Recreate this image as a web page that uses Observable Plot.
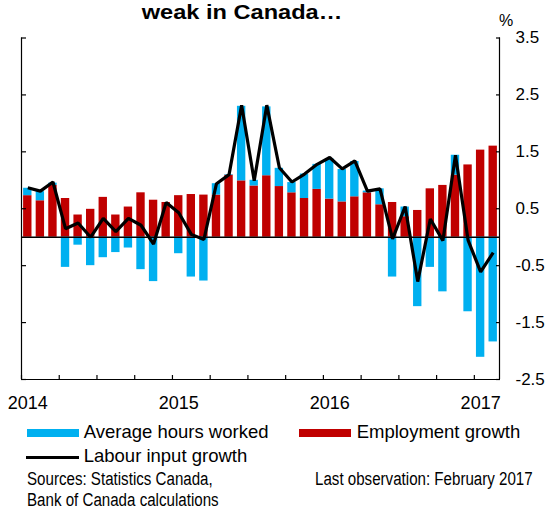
<!DOCTYPE html>
<html><head><meta charset="utf-8">
<script src="https://cdn.jsdelivr.net/npm/d3@7"></script>
<script src="https://cdn.jsdelivr.net/npm/@observablehq/plot@0.6"></script>
<style>
body{margin:0;background:#fff;}
#wrap{position:relative;width:547px;height:511px;overflow:hidden;font-family:"Liberation Sans",Arial,sans-serif;color:#000;}
#wrap svg{position:absolute;left:0;top:0;}
.t{position:absolute;white-space:nowrap;font-size:18px;line-height:18px;}
.n{transform:scaleX(0.84);transform-origin:0 0;}
.w{transform:scaleX(1.15);transform-origin:50% 0;}
.sw{position:absolute;}
</style></head><body><div id="wrap"></div>
<script>
const months = ["2014-01","2014-02","2014-03","2014-04","2014-05","2014-06","2014-07","2014-08","2014-09","2014-10","2014-11","2014-12",
"2015-01","2015-02","2015-03","2015-04","2015-05","2015-06","2015-07","2015-08","2015-09","2015-10","2015-11","2015-12",
"2016-01","2016-02","2016-03","2016-04","2016-05","2016-06","2016-07","2016-08","2016-09","2016-10","2016-11","2016-12",
"2017-01","2017-02"];
const employment = [0.73,0.64,0.91,0.68,0.39,0.49,0.70,0.39,0.53,0.78,0.65,0.61,
0.73,0.75,0.74,0.74,1.09,0.99,0.90,1.08,0.89,0.78,0.68,0.84,
0.67,0.62,0.71,0.78,0.57,0.61,0.36,0.47,0.85,0.91,1.09,1.27,
1.53,1.60];
const hours = [0.13,0.16,0.04,-0.53,-0.14,-0.50,-0.36,-0.27,-0.19,-0.57,-0.78,0.00,
-0.29,-0.70,-0.77,0.20,0.01,1.31,0.10,1.21,0.32,0.18,0.43,0.44,
0.71,0.57,0.62,0.03,0.28,-0.70,0.17,-1.22,-0.53,-0.96,0.35,-1.31,
-2.11,-1.84];
const labour = [0.87,0.81,0.97,0.15,0.25,0.00,0.33,0.10,0.33,0.21,-0.12,0.61,
0.43,0.05,-0.04,0.94,1.10,2.32,0.99,2.32,1.22,0.97,1.11,1.28,
1.40,1.20,1.34,0.81,0.85,-0.03,0.54,-0.78,0.32,-0.06,1.44,-0.05,
-0.61,-0.27];
const yTicks = [-2.5,-1.5,-0.5,0.5,1.5,2.5,3.5];
const seriesNames = ["Employment growth","Average hours worked","Labour input growth"];
const seriesColors = ["#c00000","#00b0f0","#000000"];
const titleText = "weak in Canada…";
const unitText = "%";
const sourceLines = ["Sources: Statistics Canada,","Bank of Canada calculations"];
const lastObs = "Last observation: February 2017";

const bars = months.flatMap((m,i)=>[
  {i, series: seriesNames[0], value: employment[i]},
  {i, series: seriesNames[1], value: hours[i]}
]);
const linePts = months.map((m,i)=>({x: i+0.5, y: labour[i]}));
const quarterTicks = months.map((m,i)=>i).filter(i=>i%3===0);
const yearTicks = months.map((m,i)=>({i, m})).filter(d=>d.m.endsWith("-01"));

const chart = Plot.plot({
  width: 547, height: 420,
  marginLeft: 21, marginRight: 48, marginTop: 37.5, marginBottom: 41,
  style: {fontFamily: "'Liberation Sans', Arial, sans-serif", fontSize: "17px", background: "transparent", color: "#000"},
  x: {type: "linear", domain: [0, months.length]},
  y: {domain: [-2.5, 3.5]},
  color: {domain: seriesNames.slice(0,2), range: seriesColors.slice(0,2)},
  marks: [
    Plot.rectY(bars, {x1: d=>d.i, x2: d=>d.i+1, y: "value", fill: "series", insetLeft: 2.1, insetRight: 2.1}),
    Plot.ruleY([0], {stroke: "#000", strokeWidth: 1.5}),
    Plot.line(linePts, {x: "x", y: "y", stroke: seriesColors[2], strokeWidth: 3.2, strokeLinejoin: "miter", strokeLinecap: "butt"}),
    Plot.ruleX([0, months.length], {stroke: "#000", strokeWidth: 1.2}),
    Plot.ruleY([-2.5], {stroke: "#000", strokeWidth: 1.2}),
    Plot.axisY(yTicks, {anchor: "left", tickSize: -5, tickFormat: () => "", label: null, strokeWidth: 1.2}),
    Plot.axisY(yTicks, {anchor: "right", tickSize: -4, tickFormat: () => "", label: null, strokeWidth: 1.2}),
    Plot.axisY(yTicks, {anchor: "right", tickSize: 0, tickPadding: 16, tickFormat: d => d.toFixed(1), fontSize: 17, label: null}),
    Plot.axisX(quarterTicks, {anchor: "bottom", tickSize: -4, tickFormat: () => "", label: null, strokeWidth: 1.2}),
    Plot.axisX(yearTicks.map(d=>d.i+0.5), {anchor: "bottom", tickSize: 0, tickPadding: 17, tickFormat: v => months[Math.floor(v)].slice(0,4), fontSize: 18, label: null})
  ]
});
const wrap = document.getElementById("wrap");
wrap.appendChild(chart);

function addText(txt, left, baseline, opts={}){
  const d = document.createElement("div");
  d.className = "t" + (opts.cls ? " " + opts.cls : "");
  const fs = opts.fs || 18.5;
  d.style.fontSize = fs + "px";
  d.style.lineHeight = fs + "px";
  d.style.top = (baseline - 0.8465*fs) + "px";
  if (opts.center !== undefined) { d.style.left = (opts.center - 200) + "px"; d.style.width = "400px"; d.style.textAlign = "center"; }
  else d.style.left = left + "px";
  if (opts.bold) d.style.fontWeight = "bold";
  d.textContent = txt;
  wrap.appendChild(d);
}
function addSwatch(left, top, w, h, color){
  const s = document.createElement("div");
  s.className = "sw";
  Object.assign(s.style, {left: left+"px", top: top+"px", width: w+"px", height: h+"px", background: color});
  wrap.appendChild(s);
}
addText(titleText, 0, 19, {fs: 20.5, bold: true, center: 242, cls: "w"});
addText(unitText, 499, 26.5, {fs: 16});
addSwatch(27, 429.3, 52, 8, seriesColors[1]);
addText(seriesNames[1], 83.7, 438.3);
addSwatch(299, 429.3, 52, 8, seriesColors[0]);
addText(seriesNames[0], 356.7, 438.3);
addSwatch(26, 456.3, 53, 3, seriesColors[2]);
addText(seriesNames[2], 83.7, 462.7);
addText(sourceLines[0], 27.3, 485, {cls: "n", fs: 18});
addText(sourceLines[1], 27.3, 506, {cls: "n", fs: 18});
addText(lastObs, 315, 485, {cls: "n", fs: 18});
</script></body></html>
